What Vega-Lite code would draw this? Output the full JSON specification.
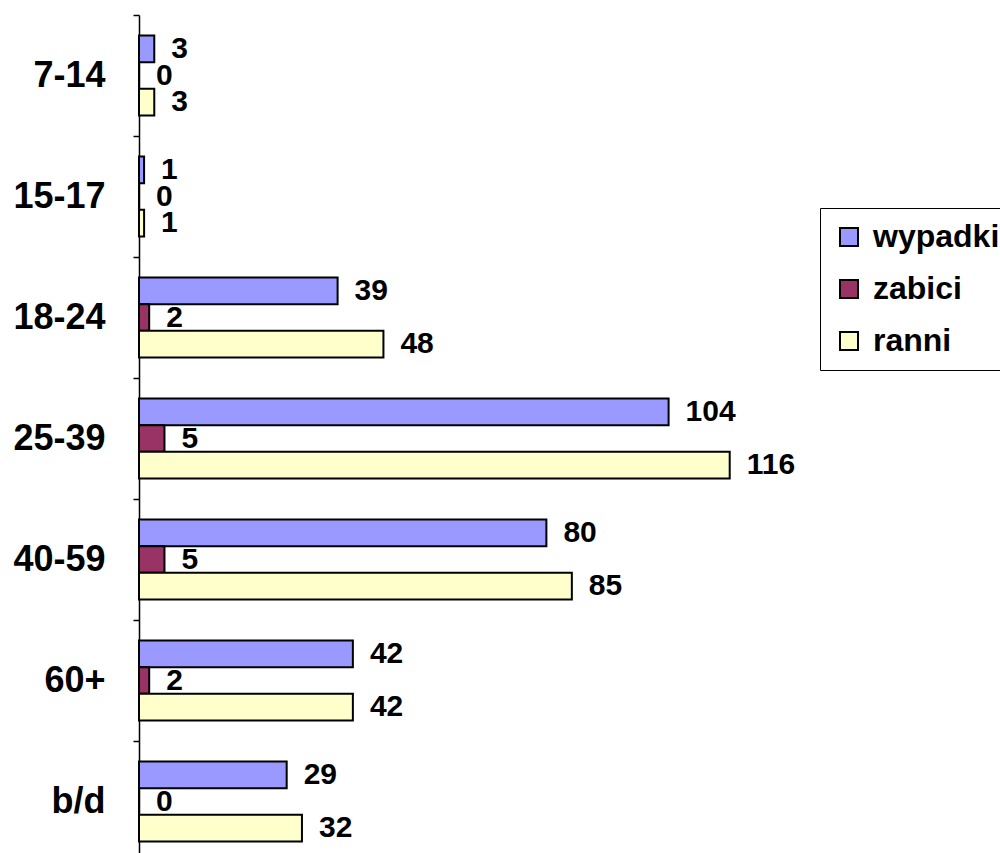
{
  "$schema": "https://vega.github.io/schema/vega-lite/v6.json",
  "autosize": {"type": "none"},
  "padding": {"left": 139, "top": 15, "right": 199, "bottom": 0},
  "width": 662,
  "height": 838,
  "background": "white",
  "config": {"view": {"stroke": null}},
  "data": {
    "values": [
      {"group": "7-14", "series": "wypadki", "value": 3},
      {"group": "7-14", "series": "zabici", "value": 0},
      {"group": "7-14", "series": "ranni", "value": 3},
      {"group": "15-17", "series": "wypadki", "value": 1},
      {"group": "15-17", "series": "zabici", "value": 0},
      {"group": "15-17", "series": "ranni", "value": 1},
      {"group": "18-24", "series": "wypadki", "value": 39},
      {"group": "18-24", "series": "zabici", "value": 2},
      {"group": "18-24", "series": "ranni", "value": 48},
      {"group": "25-39", "series": "wypadki", "value": 104},
      {"group": "25-39", "series": "zabici", "value": 5},
      {"group": "25-39", "series": "ranni", "value": 116},
      {"group": "40-59", "series": "wypadki", "value": 80},
      {"group": "40-59", "series": "zabici", "value": 5},
      {"group": "40-59", "series": "ranni", "value": 85},
      {"group": "60+", "series": "wypadki", "value": 42},
      {"group": "60+", "series": "zabici", "value": 2},
      {"group": "60+", "series": "ranni", "value": 42},
      {"group": "b/d", "series": "wypadki", "value": 29},
      {"group": "b/d", "series": "zabici", "value": 0},
      {"group": "b/d", "series": "ranni", "value": 32}
    ]
  },
  "encoding": {
    "y": {
      "field": "group",
      "type": "nominal",
      "sort": ["7-14", "15-17", "18-24", "25-39", "40-59", "60+", "b/d"],
      "scale": {"range": [0, 847], "paddingInner": 0, "paddingOuter": 0},
      "axis": {
        "title": null,
        "tickBand": "extent",
        "domainColor": "#000000",
        "domainWidth": 1.5,
        "tickColor": "#000000",
        "tickWidth": 1.5,
        "tickSize": 6,
        "labelFont": "Liberation Sans",
        "labelFontSize": 36,
        "labelFontWeight": "bold",
        "labelColor": "#000000",
        "labelPadding": 28
      }
    },
    "yOffset": {
      "field": "series",
      "type": "nominal",
      "sort": ["wypadki", "zabici", "ranni"],
      "scale": {"paddingInner": 0, "paddingOuter": 0.77}
    },
    "x": {
      "field": "value",
      "type": "quantitative",
      "scale": {"domain": [0, 130], "nice": false},
      "axis": null
    }
  },
  "layer": [
    {
      "mark": {"type": "bar", "stroke": "#000000", "strokeWidth": 2},
      "encoding": {
        "color": {
          "field": "series",
          "type": "nominal",
          "sort": ["wypadki", "zabici", "ranni"],
          "scale": {"domain": ["wypadki", "zabici", "ranni"], "range": ["#9999FF", "#993366", "#FFFFCC"]},
          "legend": {
            "title": null,
            "orient": "none",
            "legendX": 681,
            "legendY": 193,
            "strokeColor": "#000000",
            "fillColor": "#FFFFFF",
            "padding": 13,
            "symbolType": "square",
            "symbolSize": 324,
            "symbolStrokeColor": "#000000",
            "symbolStrokeWidth": 2,
            "symbolOpacity": 1,
            "labelFont": "Liberation Sans",
            "labelFontSize": 32,
            "labelFontWeight": "bold",
            "labelColor": "#000000",
            "labelOffset": 8,
            "rowPadding": 20
          }
        }
      }
    },
    {
      "mark": {
        "type": "text",
        "align": "left",
        "baseline": "middle",
        "dx": 17,
        "font": "Liberation Sans",
        "fontSize": 30,
        "fontWeight": "bold",
        "color": "#000000"
      },
      "encoding": {
        "text": {"field": "value", "type": "quantitative"}
      }
    }
  ]
}
